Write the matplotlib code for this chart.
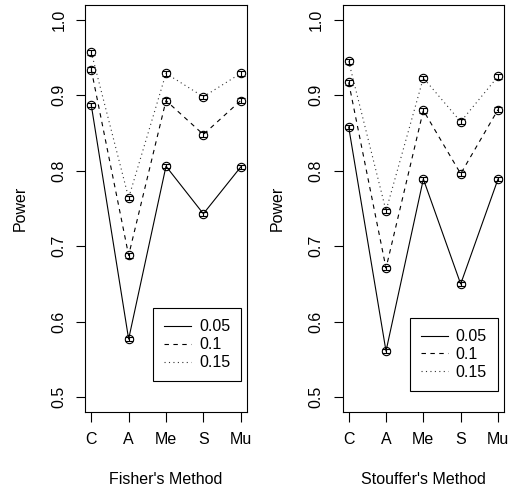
import matplotlib
matplotlib.use("Agg")
import matplotlib.pyplot as plt
import numpy as np

plt.rcParams["font.family"] = ["Liberation Sans", "DejaVu Sans"]
plt.rcParams["font.size"] = 11.5

methods = ["C", "A", "Me", "S", "Mu"]
levels = ["0.05", "0.1", "0.15"]

fisher_005 = [0.887, 0.577, 0.806, 0.743, 0.805]
fisher_010 = [0.934, 0.688, 0.893, 0.848, 0.893]
fisher_015 = [0.957, 0.764, 0.929, 0.898, 0.929]

stouffer_005 = [0.858, 0.561, 0.789, 0.650, 0.789]
stouffer_010 = [0.917, 0.671, 0.880, 0.796, 0.881]
stouffer_015 = [0.945, 0.747, 0.923, 0.865, 0.925]

# standard errors (approx)
se = [0.003, 0.003, 0.003, 0.003, 0.003]

panels = [
    ("Fisher's Method", [fisher_005, fisher_010, fisher_015]),
    ("Stouffer's Method", [stouffer_005, stouffer_010, stouffer_015]),
]

W, H = 508, 493
fig = plt.figure(figsize=(W / 100, H / 100), dpi=100)

styles = [
    dict(ls="-", color="black"),
    dict(ls=(0, (4, 4)), color="black"),
    dict(ls=(0, (1, 3)), color="#333333"),
]

ax_px = [(85.3, 4.7, 246.7, 412.3), (342.7, 4.7, 504.0, 412.3)]
legend_px = [(153.3, 308.3), (409.7, 318.0)]

x = np.arange(1, len(methods) + 1)

for (title, series), (l, t, r, b), (lx, ly) in zip(panels, ax_px, legend_px):
    ax = fig.add_axes([l / W, 1 - b / H, (r - l) / W, (b - t) / H])
    handles = []
    for vals, lev, st in zip(series, levels, styles):
        (h,) = ax.plot(x, vals, lw=0.8, label=lev, **st)
        handles.append(h)
        ax.errorbar(x, vals, yerr=se, fmt="none", ecolor="black",
                    elinewidth=0.8, capsize=3.0, capthick=0.8)
        ax.plot(x, vals, "o", mfc="none", mec="black", ms=6.0, mew=0.8)
    ax.set_xlim(0.84, 5.16)
    ax.set_ylim(0.48, 1.02)
    ax.set_xticks(x)
    ax.set_xticklabels(methods)
    ax.set_yticks([0.5, 0.6, 0.7, 0.8, 0.9, 1.0])
    ax.set_yticklabels(["0.5", "0.6", "0.7", "0.8", "0.9", "1.0"])
    ax.tick_params(axis="y", length=6.2, width=0.8, pad=7.5, labelrotation=90)
    ax.tick_params(axis="x", length=7.0, width=0.8, pad=7.5)
    for lab in ax.get_yticklabels():
        lab.set_va("center")
    for s in ax.spines.values():
        s.set_linewidth(0.8)
    leg = fig.legend(handles=handles, loc="upper left",
                     bbox_to_anchor=(lx / W, 1 - ly / H), borderaxespad=0,
                     fancybox=False, framealpha=1, edgecolor="black",
                     handlelength=1.67, handletextpad=0.5, labelspacing=0.18,
                     borderpad=0.7, fontsize=11.5)
    leg.get_frame().set_linewidth(0.8)
    cx = (l + r) / 2
    fig.text(cx / W, 1 - 480 / H, title, ha="center", va="center")
    fig.text((l - 65.3) / W, 1 - ((t + b) / 2) / H, "Power",
             rotation=90, ha="center", va="center")

fig.savefig("out.png", dpi=100)
